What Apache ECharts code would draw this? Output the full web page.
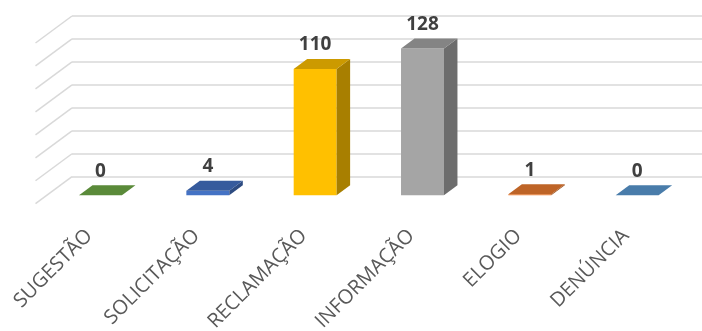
<!DOCTYPE html>
<html>
<head>
<meta charset="utf-8">
<script src="https://cdn.jsdelivr.net/npm/echarts@6/dist/echarts.min.js"></script>
<style>
html,body{margin:0;padding:0;background:#fff;}
#chart{width:702px;height:331px;}
</style>
</head>
<body>
<div id="chart"></div>
<script>
// ---- data ----
const categories = ['SUGESTÃO', 'SOLICITAÇÃO', 'RECLAMAÇÃO', 'INFORMAÇÃO', 'ELOGIO', 'DENÚNCIA'];
const values = [0, 4, 110, 128, 1, 0];
const gridValues = [0, 20, 40, 60, 80, 100, 120, 140];
const yMax = 140;
const yInterval = 20;

// ---- styles ----
const baseColors = ['#70AD47', '#4472C4', '#FFC000', '#A5A5A5', '#ED7D31', '#5B9BD5'];
const DEPTH = [36.5, -27];     // full floor depth
const FRONT_F = 0.69;          // bar front position (fraction of depth from back wall)
const BACK_F = 0.32;           // bar back position

function shade(hex, f) {
  const n = parseInt(hex.slice(1), 16);
  const r = Math.round(((n >> 16) & 255) * f);
  const g = Math.round(((n >> 8) & 255) * f);
  const b = Math.round((n & 255) * f);
  return 'rgb(' + r + ',' + g + ',' + b + ')';
}

const chart = echarts.init(document.getElementById('chart'), null, {renderer: 'canvas'});

const option = {
  backgroundColor: '#ffffff',
  animation: false,
  grid: [
    {left: 72, width: 644, top: 16, bottom: 154.3, containLabel: false, outerBoundsMode: 'none'},
    {left: 35.5, width: 644, top: 43, bottom: 127.3, containLabel: false, outerBoundsMode: 'none'}
  ],
  xAxis: [
    {type: 'category', data: categories, gridIndex: 0,
     axisLine: {show: false}, axisTick: {show: false}, axisLabel: {show: false}},
    {type: 'category', data: categories, gridIndex: 1,
     axisLine: {show: false}, axisTick: {show: false},
     axisLabel: {show: true, rotate: 45, margin: 29, interval: 0,
       color: '#595959', fontSize: 20, fontFamily: '"Open Sans", sans-serif'}}
  ],
  yAxis: [
    {type: 'value', gridIndex: 0, min: 0, max: yMax, interval: yInterval,
     axisLine: {show: false}, axisTick: {show: false}, axisLabel: {show: false},
     splitLine: {show: true, lineStyle: {color: '#D9D9D9', width: 1.5}}},
    {type: 'value', gridIndex: 1, min: 0, max: yMax, interval: yInterval, show: false,
     splitLine: {show: false}}
  ],
  series: [
    {
      type: 'custom',
      xAxisIndex: 0, yAxisIndex: 0,
      data: gridValues.map(v => [0, v]),
      silent: true,
      renderItem: function (params, api) {
        const y = api.coord([0, api.value(1)])[1];
        const x0 = params.coordSys.x;
        return {
          type: 'line',
          shape: {x1: x0, y1: y, x2: x0 - DEPTH[0], y2: y - DEPTH[1]},
          style: {stroke: '#D9D9D9', lineWidth: 1.5}
        };
      }
    },
    {
      type: 'custom',
      xAxisIndex: 0, yAxisIndex: 0,
      data: values.map((v, i) => [i, v]),
      renderItem: function (params, api) {
        const idx = api.value(0);
        const val = api.value(1);
        const p0 = api.coord([idx, 0]);
        const pv = api.coord([idx, val]);
        const band = api.size([1, 0])[0];
        const w = band * 0.4;
        const fx = -DEPTH[0] * FRONT_F, fy = -DEPTH[1] * FRONT_F;
        const dx = DEPTH[0] * (FRONT_F - BACK_F), dy = DEPTH[1] * (FRONT_F - BACK_F);
        const L = p0[0] + fx - w / 2, R = p0[0] + fx + w / 2;
        const B = p0[1] + fy, T = pv[1] + fy;
        const base = baseColors[idx];
        const children = [];
        if (B - T > 0.01) {
          children.push({type: 'rect', shape: {x: L, y: T, width: w, height: B - T},
            style: {fill: base}});
          children.push({type: 'polygon', shape: {points: [[R, T], [R + dx, T + dy], [R + dx, B + dy], [R, B]]},
            style: {fill: shade(base, 0.66)}});
        }
        children.push({type: 'polygon', shape: {points: [[L, T], [R, T], [R + dx, T + dy], [L + dx, T + dy]]},
          style: {fill: shade(base, 0.8)}});
        children.push({type: 'text', style: {
          text: String(val), x: (L + R) / 2, y: T + dy - 14,
          align: 'center', verticalAlign: 'middle',
          textAlign: 'center', textVerticalAlign: 'middle',
          font: 'bold 19px "Open Sans", sans-serif', fill: '#404040'}});
        return {type: 'group', children: children};
      }
    }
  ]
};
chart.setOption(option);
</script>
</body>
</html>
